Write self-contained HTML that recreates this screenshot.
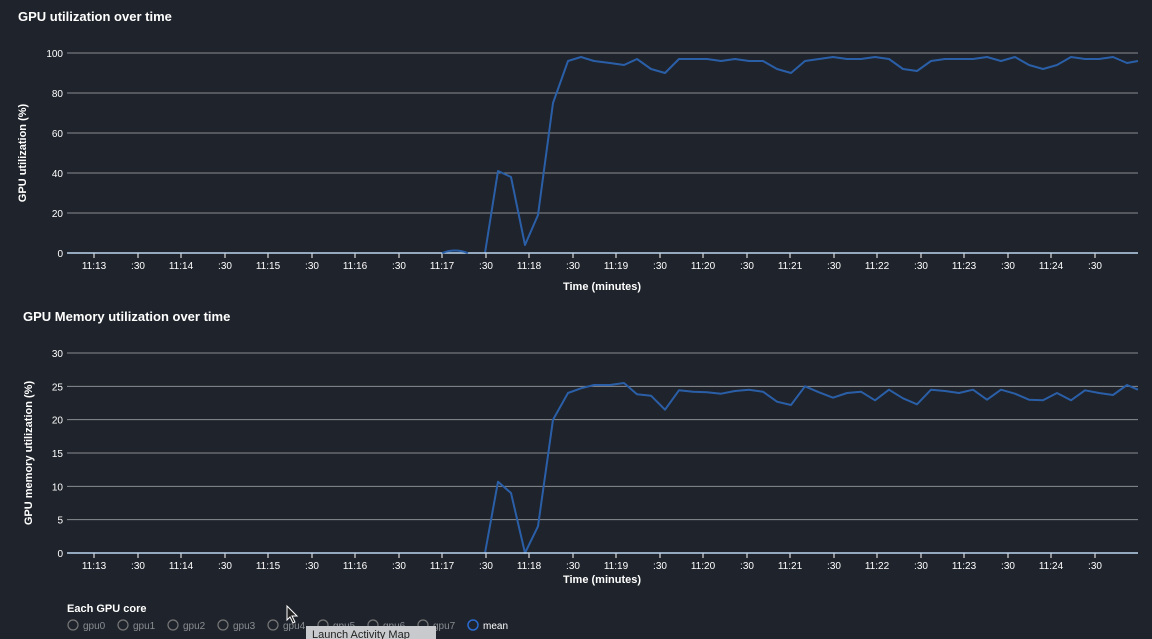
<!DOCTYPE html>
<html><head><meta charset="utf-8"><style>
html,body{margin:0;padding:0;background:#1f232b;width:1152px;height:639px;overflow:hidden;font-family:"Liberation Sans",Arial,sans-serif;}
svg{position:absolute;left:0;top:0}
</style></head><body>
<svg id="s" width="1152" height="639" xmlns="http://www.w3.org/2000/svg" font-family="Liberation Sans, Arial, sans-serif"></svg>
<script>
const s=document.getElementById('s');let h='';
const ticks=[[94,'11:13'],[138,':30'],[181,'11:14'],[225,':30'],[268,'11:15'],[312,':30'],[355,'11:16'],[399,':30'],[442,'11:17'],[486,':30'],[529,'11:18'],[573,':30'],[616,'11:19'],[660,':30'],[703,'11:20'],[747,':30'],[790,'11:21'],[834,':30'],[877,'11:22'],[921,':30'],[964,'11:23'],[1008,':30'],[1051,'11:24'],[1095,':30']];
function chart(y0,yTop,max,step,title,ty,ylab,ylx,xlaby,data){
 h+=`<text x="${title[1]}" y="${ty}" fill="#fff" font-size="13" font-weight="bold">${title[0]}</text>`;
 for(let v=step;v<=max;v+=step){const y=y0-(y0-yTop)*v/max;
  h+=`<line x1="67" x2="1138" y1="${y}" y2="${y}" stroke="#8a8d92" stroke-width="1"/>`;}
 for(let v=0;v<=max;v+=step){const y=y0-(y0-yTop)*v/max;
  h+=`<text x="63" y="${y+4}" fill="#fff" font-size="10" text-anchor="end">${v}</text>`;}
 ticks.forEach(t=>{h+=`<line x1="${t[0]}" x2="${t[0]}" y1="${y0}" y2="${y0+5}" stroke="#fff"/><text x="${t[0]}" y="${y0+16}" fill="#fff" font-size="10" text-anchor="middle">${t[1]}</text>`;});
 h+=`<text x="602" y="${xlaby}" fill="#fff" font-size="11" font-weight="bold" text-anchor="middle">Time (minutes)</text>`;
 const cy=(y0+yTop)/2;
 h+=`<text transform="translate(${ylx},${cy}) rotate(-90)" fill="#fff" font-size="11" font-weight="bold" text-anchor="middle">${ylab}</text>`;
 let p='M485,'+y0;
 data.forEach(d=>{p+=` L${d[0]},${(y0-(y0-yTop)*d[1]/max).toFixed(1)}`;});
 h+=`<path d="${p}" fill="none" stroke="#2a5fa8" stroke-width="2" stroke-linejoin="round"/>`;
 h+=`<line x1="67" x2="1138" y1="${y0}" y2="${y0}" stroke="#bcd6f0" stroke-width="1.5"/>`;
}
const xs=[498,511,525,538,553,568,581,594,610,624,637,651,665,679,693,707,721,735,749,763,777,791,805,819,833,847,861,875,889,903,917,931,945,959,973,987,1001,1015,1029,1043,1057,1071,1085,1099,1113,1127,1138];
const d1=[41,38,4,19,75,96,98,96,95,94,97,92,90,97,97,97,96,97,96,96,92,90,96,97,98,97,97,98,97,92,91,96,97,97,97,98,96,98,94,92,94,98,97,97,98,95,96];
const d2=[10.7,9,0,4,20,24,24.7,25.2,25.2,25.5,23.8,23.6,21.5,24.4,24.2,24.1,23.9,24.3,24.5,24.2,22.7,22.2,25,24.1,23.3,24,24.2,22.9,24.5,23.2,22.3,24.5,24.3,24,24.5,23,24.5,23.9,23,22.9,24,22.9,24.4,24,23.7,25.2,24.5];
chart(253,53,100,20,['GPU utilization over time',18],21,'GPU utilization (%)',26,290,xs.map((x,i)=>[x,d1[i]]));
h+=`<path d="M442,253 Q455,248 468,253" fill="none" stroke="#2a5fa8" stroke-width="2"/>`;
chart(553,353,30,5,['GPU Memory utilization over time',23],321,'GPU memory utilization (%)',32,583,xs.map((x,i)=>[x,d2[i]]));
h+=`<text x="67" y="612" fill="#fff" font-size="11" font-weight="bold">Each GPU core</text>`;
const leg=[[73,'gpu0'],[123,'gpu1'],[173,'gpu2'],[223,'gpu3'],[273,'gpu4'],[323,'gpu5'],[373,'gpu6'],[423,'gpu7']];
leg.forEach(l=>{h+=`<circle cx="${l[0]}" cy="625" r="5" fill="none" stroke="#777" stroke-width="1.2"/><text x="${l[0]+10}" y="629" fill="#8a8d92" font-size="10">${l[1]}</text>`;});
h+=`<circle cx="473" cy="625" r="5" fill="none" stroke="#2a6ad0" stroke-width="1.5"/><text x="483" y="629" fill="#fff" font-size="10">mean</text>`;
h+=`<rect x="306" y="626" width="130" height="14" fill="#c8cacd"/><text x="312" y="638" fill="#222" font-size="11">Launch Activity Map</text>`;
h+=`<path d="M287,606 L287,620 L290,617 L293,623 L295,622 L292,616 L297,616 Z" fill="#222" stroke="#fff" stroke-width="1"/>`;
s.innerHTML=h;
</script>
</body></html>
